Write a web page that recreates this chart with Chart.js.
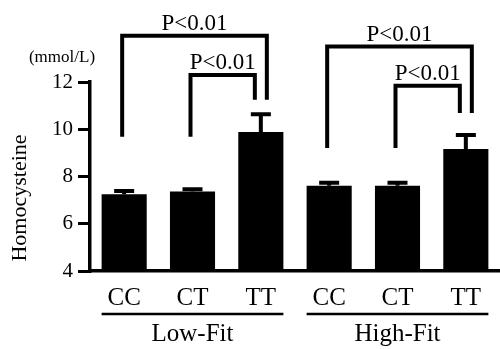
<!DOCTYPE html>
<html>
<head>
<meta charset="utf-8">
<script src="https://cdn.jsdelivr.net/npm/chart.js@4"></script>
<style>
  html, body { margin: 0; padding: 0; background: #fff; }
</style>
</head>
<body>
<canvas id="homoChart" width="500" height="349"></canvas>
<script>
// data
const genotypes = ['CC', 'CT', 'TT', 'CC', 'CT', 'TT'];
const fitGroups = ['Low-Fit', 'High-Fit'];
const groupOf = [0, 0, 0, 1, 1, 1];
const means = [7.25, 7.36, 9.88, 7.61, 7.61, 9.16];
const errs = [0.14, 0.1, 0.76, 0.13, 0.13, 0.6];
const yTicks = [4, 6, 8, 10, 12];

// significance brackets (bar index pairs, heights in mmol/L)
const sigFrom = [0, 1, 3, 4];
const sigTo = [2, 2, 5, 5];
const sigTop = [13.96, 12.3, 13.5, 11.84];
const sigLeftEnd = [9.68, 9.68, 9.21, 9.21];
const sigRightEnd = [11.25, 11.25, 10.69, 10.69];
const sigLabel = ['P<0.01', 'P<0.01', 'P<0.01', 'P<0.01'];

const serif = "'Liberation Serif', 'DejaVu Serif', serif";

const extras = {
    id: 'extras',
    afterDatasetsDraw(chart) {
        const ctx = chart.ctx;
        const y = chart.scales.y;
        const bars = chart.getDatasetMeta(0).data;
        ctx.save();
        ctx.strokeStyle = '#000';
        ctx.fillStyle = '#000';
        ctx.lineCap = 'butt';

        // error bars (upper only)
        ctx.lineWidth = 4;
        bars.forEach((b, i) => {
            const yt = y.getPixelForValue(means[i]);
            const ye = y.getPixelForValue(means[i] + errs[i]);
            ctx.beginPath();
            ctx.moveTo(b.x, yt);
            ctx.lineTo(b.x, ye);
            ctx.moveTo(b.x - 10, ye);
            ctx.lineTo(b.x + 10, ye);
            ctx.stroke();
        });

        // brackets
        ctx.lineWidth = 4;
        ctx.lineJoin = 'miter';
        ctx.font = '23px ' + serif;
        ctx.textAlign = 'center';
        ctx.textBaseline = 'alphabetic';
        sigFrom.forEach((f, k) => {
            const t = sigTo[k];
            const outer = (t - f) > 1;
            const x1 = bars[f].x - 2;
            const x2 = bars[t].x + (outer ? 6 : -6);
            const yTop = y.getPixelForValue(sigTop[k]);
            ctx.beginPath();
            ctx.moveTo(x1, y.getPixelForValue(sigLeftEnd[k]));
            ctx.lineTo(x1, yTop);
            ctx.lineTo(x2, yTop);
            ctx.lineTo(x2, y.getPixelForValue(sigRightEnd[k]));
            ctx.stroke();
            ctx.fillText(sigLabel[k], (x1 + x2) / 2, yTop - 6);
        });

        // group underlines + names
        ctx.font = '25px ' + serif;
        ctx.textBaseline = 'middle';
        ctx.lineWidth = 2.5;
        fitGroups.forEach((g, gi) => {
            const idx = groupOf.map((v, i) => v === gi ? i : -1).filter(i => i >= 0);
            const first = bars[idx[0]], last = bars[idx[idx.length - 1]];
            const left = first.x - first.width / 2;
            const right = last.x + last.width / 2;
            ctx.beginPath();
            ctx.moveTo(left, 314);
            ctx.lineTo(right, 314);
            ctx.stroke();
            ctx.fillText(g, (left + right) / 2, 334);
        });

        // axis titles
        ctx.font = '17px ' + serif;
        ctx.fillText('(mmol/L)', 62, 58);
        ctx.save();
        ctx.translate(20, 198);
        ctx.rotate(-Math.PI / 2);
        ctx.font = '22px ' + serif;
        ctx.fillText('Homocysteine', 0, 0);
        ctx.restore();

        ctx.restore();
    }
};

new Chart(document.getElementById('homoChart'), {
    type: 'bar',
    data: {
        labels: genotypes,
        datasets: [{
            data: means,
            backgroundColor: '#000',
            borderWidth: 0,
            barPercentage: 0.66,
            categoryPercentage: 1
        }]
    },
    options: {
        responsive: false,
        animation: false,
        devicePixelRatio: 1,
        layout: { padding: { top: 82, right: 0, left: 0, bottom: 0 } },
        plugins: { legend: { display: false }, tooltip: { enabled: false } },
        scales: {
            x: {
                grid: { display: false, drawTicks: false },
                border: { color: '#000', width: 3.5 },
                ticks: { color: '#000', font: { family: serif, size: 25 }, padding: 12 },
                afterFit: s => { s.height = 78; }
            },
            y: {
                min: 4,
                max: 12,
                afterBuildTicks: s => { s.ticks = yTicks.map(v => ({ value: v })); },
                grid: { drawOnChartArea: false, drawTicks: true, tickLength: 12, color: '#000', lineWidth: 3 },
                border: { color: '#000', width: 3.5 },
                ticks: { color: '#000', font: { family: serif, size: 21 }, padding: 5 },
                afterFit: s => { s.width = 90; }
            }
        }
    },
    plugins: [extras]
});
</script>
</body>
</html>
